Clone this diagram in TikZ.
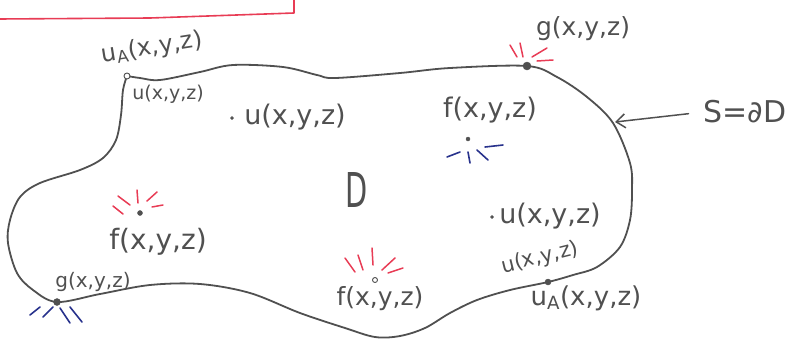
\documentclass[tikz,border=0pt]{standalone}
\usepackage{fontspec}
\setmainfont{DejaVu Sans}
\usetikzlibrary{arrows.meta}
\definecolor{pencil}{RGB}{80,80,80}
\definecolor{penred}{RGB}{232,60,85}
\definecolor{penblue}{RGB}{40,50,140}
\begin{document}
\begin{tikzpicture}[x=1pt,y=-1pt,
  lbl/.style={text=pencil, inner sep=0pt, font=\fontsize{#1}{#1}\selectfont},
  bdot/.style={circle, fill=pencil, draw=pencil, inner sep=0pt, minimum size=#1},
  odot/.style={circle, draw=pencil, line width=0.9pt, fill=white, inner sep=0pt, minimum size=#1},
  curve/.style={draw=pencil, line width=1.8pt, line cap=round, line join=round},
  redray/.style={draw=penred, line width=1.5pt, line cap=round},
  blueray/.style={draw=penblue, line width=1.6pt, line cap=round},
  redbox/.style={draw=penred, line width=1.6pt, line join=round}]
\useasboundingbox (0,0) rectangle (794,341);

% red box fragment at top
\draw[redbox] (-2,19) -- (150,18) -- (294,13) -- (294,-3);

% boundary S of region D
\draw[curve] plot[smooth, tension=0.55] coordinates {
 (127,76) (140,78) (160,80) (200,72) (233,65) (283,67) (317,75) (335,78)
 (400,73) (450,68) (527,66) (557,77) (587,97) (613,123) (630,163) (632,190)
 (630,220) (620,247) (597,267) (573,275) (548,282) (510,290) (477,300)
 (450,313) (425,328) (400,336) (375,337) (345,328) (300,313) (250,293)
 (200,284) (150,285) (100,294) (57,302) (33,290) (17,273) (8,243) (10,220)
 (20,197) (40,183) (80,170) (103,158) (116,140) (121,115) (123,90) (127,76)};

% boundary points
\node[odot=6pt] (uAtop) at (127,76) {};
\node[bdot=8pt] (gtop) at (527,66) {};
\node[bdot=7pt] (gbot) at (57,302) {};
\node[bdot=6pt] (uAbot) at (548,282) {};

% interior points
\node[bdot=3pt] (uin1) at (232,118) {};
\node[bdot=4pt] (fin1) at (468,139) {};
\node[bdot=5pt] (fin2) at (140,213) {};
\node[odot=5pt] (fin3) at (375,280) {};
\node[bdot=3pt] (uin2) at (492,217) {};

% labels
\node[lbl=24, rotate=9] (uAtoplbl) at (152,48) {u\textsubscript{A}(x,y,z)};
\node[lbl=19] (utoplbl) at (168,94) {u(x,y,z)};
\node[lbl=27] (uin1lbl) at (295,117) {u(x,y,z)};
\node[lbl=25] (gtoplbl) at (583,29) {g(x,y,z)};
\node[lbl=27] (fin1lbl) at (490,110) {f(x,y,z)};
\node[lbl=48] (Dlbl) at (357,190) {\scalebox{0.6}[1]{D}};
\node[lbl=28] (fin2lbl) at (158,242) {f(x,y,z)};
\node[lbl=27] (uin2lbl) at (550,216) {u(x,y,z)};
\node[lbl=21, rotate=14] (ubotlbl) at (540,258) {u(x,y,z)};
\node[lbl=26] (uAbotlbl) at (586,298) {u\textsubscript{A}(x,y,z)};
\node[lbl=25] (fin3lbl) at (380,299) {f(x,y,z)};
\node[lbl=20] (gbotlbl) at (93,282) {g(x,y,z)};
\node[lbl=30] (Slbl) at (745,112) {S=∂D};
\coordinate (Stip) at (615,122);
\draw[draw=pencil, line width=1.5pt, line cap=round,
      -{Straight Barb[length=9pt, width=14pt]}, shorten <=15pt] (Slbl.west) -- (Stip);

% rays at top g
\draw[redray] (510,45) -- (517,57);
\draw[redray] (520,43) -- (523,57);
\draw[redray] (532,57) -- (547,48);
\draw[redray] (537,61) -- (553,60);

% rays at top-right f (blue)
\draw[blueray] (447,157) -- (460,152);
\draw[blueray] (468,152) -- (470,163);
\draw[blueray] (477,150) -- (488,160);
\draw[blueray] (485,147) -- (503,145);

% rays at left f (red)
\draw[redray] (113,206) -- (123,214);
\draw[redray] (118,196) -- (130,205);
\draw[redray] (137,190) -- (138,203);
\draw[redray] (147,201) -- (157,192);
\draw[redray] (152,207) -- (163,205);

% rays at bottom f (red)
\draw[redray] (345,258) -- (355,272);
\draw[redray] (358,255) -- (363,270);
\draw[redray] (372,248) -- (373,265);
\draw[redray] (382,270) -- (395,258);
\draw[redray] (388,273) -- (403,268);

% rays at bottom g (blue)
\draw[blueray] (30,315) -- (40,307);
\draw[blueray] (43,317) -- (53,307);
\draw[blueray] (60,308) -- (70,323);
\draw[blueray] (70,307) -- (82,322);
\end{tikzpicture}
\end{document}
